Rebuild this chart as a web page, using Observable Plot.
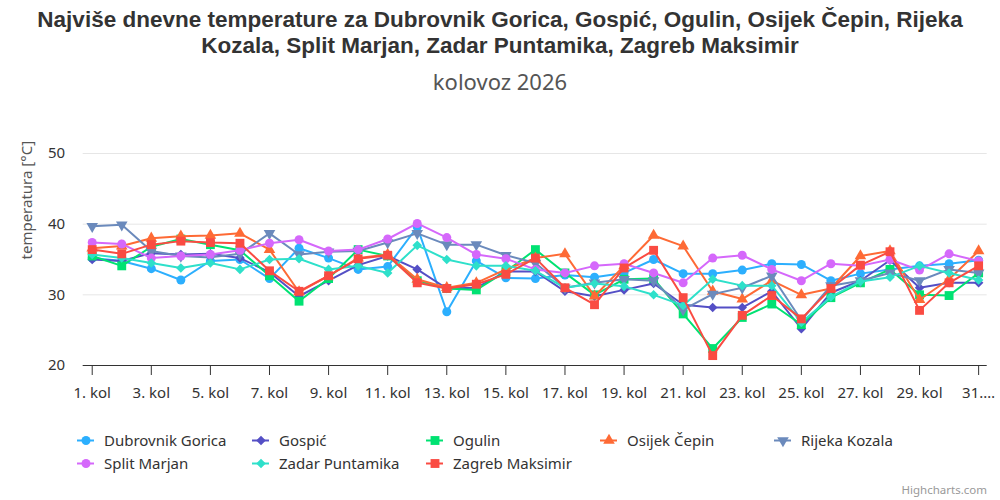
<!DOCTYPE html>
<html>
<head>
<meta charset="utf-8">
<script src="https://cdn.jsdelivr.net/npm/d3@7"></script>
<script src="https://cdn.jsdelivr.net/npm/@observablehq/plot@0.6"></script>
<style>
  html, body { margin: 0; padding: 0; background: #fff; }
  #wrap { position: relative; width: 1000px; height: 500px; overflow: hidden; font-family: "Noto Sans", sans-serif; }
  #title { position: absolute; left: 0; top: 7px; width: 1000px; text-align: center; font-family: "Liberation Sans", Arial, sans-serif; font-weight: bold; font-size: 22.5px; line-height: 26px; color: #333; }
  #subtitle { position: absolute; left: 0; top: 66px; width: 1000px; text-align: center; font-family: "Noto Sans", sans-serif; font-size: 22px; color: #555; }
  #chart { position: absolute; left: 0; top: 130px; }
  .leg { position: absolute; display: flex; align-items: center; font-size: 15px; color: #333; white-space: nowrap; }
  .leg svg { margin-right: 10px; }
  #credit { position: absolute; right: 13px; top: 482px; font-size: 11.5px; color: #999; }
</style>
</head>
<body>
<div id="wrap">
  <div id="title">Najviše dnevne temperature za Dubrovnik Gorica, Gospić, Ogulin, Osijek Čepin, Rijeka<br>Kozala, Split Marjan, Zadar Puntamika, Zagreb Maksimir</div>
  <div id="subtitle">kolovoz 2026</div>
  <div id="chart"></div>
  <div id="legend"></div>
  <div id="credit">Highcharts.com</div>
</div>
<script>
const days = d3.range(1, 32);
const xTicks = [1, 3, 5, 7, 9, 11, 13, 15, 17, 19, 21, 23, 25, 27, 29, 31];
const xTickLabel = d => d === 31 ? "31.…" : `${d}. kol`;
const yTicks = [20, 30, 40, 50];

const seriesNames = ["Dubrovnik Gorica", "Gospić", "Ogulin", "Osijek Čepin", "Rijeka Kozala", "Split Marjan", "Zadar Puntamika", "Zagreb Maksimir"];
const seriesColors = ["#2caffe", "#544fc5", "#00e272", "#fe6a35", "#6b8abc", "#d568fb", "#2ee0ca", "#fa4b42"];
const seriesSymbols = ["circle", "diamond", "square", "triangle", "triangleDown", "circle", "diamond", "square"];

const dubrovnik = [35.2,34.8,33.7,32.1,34.8,35.0,32.3,36.6,35.2,33.6,34.0,39.6,27.6,34.8,32.4,32.3,32.8,32.5,33.1,35.0,33.0,33.0,33.5,34.4,34.3,32.0,33.0,33.6,34.1,34.4,34.9];
const gospic    = [35.0,34.8,35.9,35.7,35.8,35.2,33.2,29.8,32.0,34.2,35.5,33.6,30.9,31.0,33.3,33.3,30.5,29.8,30.7,31.6,28.6,28.2,28.2,30.5,25.2,30.3,32.0,34.9,31.0,31.7,31.7];
const ogulin    = [35.5,34.1,36.8,37.9,37.1,36.3,32.7,29.1,32.3,36.4,35.5,32.0,30.9,30.7,33.3,36.4,33.1,30.0,32.2,32.3,27.3,22.4,26.8,28.7,25.8,29.6,31.7,33.6,30.0,29.9,33.1];
const osijek    = [36.6,36.9,38.0,38.3,38.4,38.7,36.4,30.4,32.7,35.2,35.7,32.2,31.0,31.7,33.6,35.2,35.8,29.8,34.1,38.4,36.9,30.5,29.4,32.0,30.0,30.9,35.5,36.2,29.3,32.2,36.2];
const rijeka    = [39.7,39.9,36.2,35.5,35.3,35.8,38.7,35.7,36.1,36.2,37.4,38.7,37.1,37.1,35.6,34.5,31.0,31.7,32.2,32.0,27.9,30.1,31.0,32.7,26.4,31.3,32.0,33.1,32.0,33.6,33.1];
const split     = [37.4,37.2,35.2,35.5,35.7,36.3,37.3,37.8,36.2,36.4,37.9,40.1,38.1,35.7,35.1,33.6,33.1,34.1,34.4,33.1,31.7,35.2,35.6,33.6,32.0,34.4,34.1,35.0,33.5,35.8,34.8];
const zadar     = [35.7,35.2,34.5,33.8,34.5,33.6,35.0,35.1,33.6,34.1,33.1,37.0,35.0,34.1,34.1,33.4,31.0,31.6,31.2,30.0,28.5,32.2,31.3,31.3,26.1,29.7,31.9,32.5,34.1,33.1,32.1];
const zagreb    = [36.4,35.8,37.1,37.6,37.4,37.3,33.4,30.5,32.7,35.1,35.6,31.7,30.9,31.5,32.9,35.2,31.0,28.6,33.8,36.3,29.6,21.4,27.1,29.9,26.6,30.9,34.2,36.1,27.8,31.7,34.1];
const seriesValues = [dubrovnik, gospic, ogulin, osijek, rijeka, split, zadar, zagreb];

const sqrt3 = Math.sqrt(3);
const triangleDown = {
  draw(context, size) {
    const y = -Math.sqrt(size / (sqrt3 * 3));
    context.moveTo(0, -y * 2);
    context.lineTo(-sqrt3 * y, y);
    context.lineTo(sqrt3 * y, y);
    context.closePath();
  }
};
function plotSymbol(s) {
  if (s === "triangleDown") return triangleDown;
  if (s === "diamond") return "diamond2";
  return s;
}
function symbolR(s) {
  return s === "circle" ? 4.5 : s === "square" ? 5 : 4.3;
}

const marks = [
  Plot.gridY(yTicks, {stroke: "#e6e6e6", strokeOpacity: 1, strokeWidth: 1}),
  Plot.ruleY([20], {stroke: "#333", strokeWidth: 1}),
  Plot.axisY(yTicks, {tickSize: 0, tickPadding: 18, fontSize: 15, fill: "#333", label: null}),
  Plot.axisX(xTicks, {tickSize: 10, tickPadding: 12, fontSize: 15, fill: "#333", stroke: "#333", tickFormat: xTickLabel, label: null}),
  Plot.text(["temperatura [°C]"], {frameAnchor: "left", dx: -56, rotate: -90, fontSize: 15, fill: "#555", text: d => d})
];
seriesNames.forEach((name, k) => {
  const data = days.map((d, i) => ({day: d, value: seriesValues[k][i]}));
  marks.push(Plot.line(data, {x: "day", y: "value", stroke: seriesColors[k], strokeWidth: 2}));
  marks.push(Plot.dot(data, {x: "day", y: "value", fill: seriesColors[k], stroke: "none", symbol: plotSymbol(seriesSymbols[k]), r: symbolR(seriesSymbols[k])}));
});

const chart = Plot.plot({
  width: 1000,
  height: 280,
  marginTop: 23,
  marginBottom: 45,
  marginLeft: 82.7,
  marginRight: 13.3,
  style: {fontFamily: "'Noto Sans', sans-serif", fontSize: "15px", color: "#333", background: "transparent", overflow: "visible"},
  x: {type: "linear", domain: [0.695, 31.29], axis: null},
  y: {domain: [20, 50], axis: null},
  marks
});
document.getElementById("chart").appendChild(chart);

// legend
const legend = document.getElementById("legend");
const colX = [77, 252, 426, 600, 774];
const rowY = [440, 463];
seriesNames.forEach((name, k) => {
  const col = k % 5, row = Math.floor(k / 5);
  const item = document.createElement("div");
  item.className = "leg";
  item.style.left = colX[col] + "px";
  item.style.top = (rowY[row] - 11) + "px";
  item.style.height = "22px";
  const sym = plotSymbol(seriesSymbols[k]);
  const symSvg = Plot.plot({
    width: 17, height: 12, margin: 0,
    x: {domain: [0, 1], axis: null}, y: {domain: [0, 1], axis: null},
    style: {background: "transparent", overflow: "visible"},
    marks: [
      Plot.ruleY([0.5], {stroke: seriesColors[k], strokeWidth: 2}),
      Plot.dot([0], {x: () => 0.5, y: () => 0.5, fill: seriesColors[k], stroke: "none", symbol: sym, r: symbolR(seriesSymbols[k])})
    ]
  });
  item.appendChild(symSvg);
  const label = document.createElement("span");
  label.textContent = name;
  item.appendChild(label);
  legend.appendChild(item);
});
</script>
</body>
</html>
